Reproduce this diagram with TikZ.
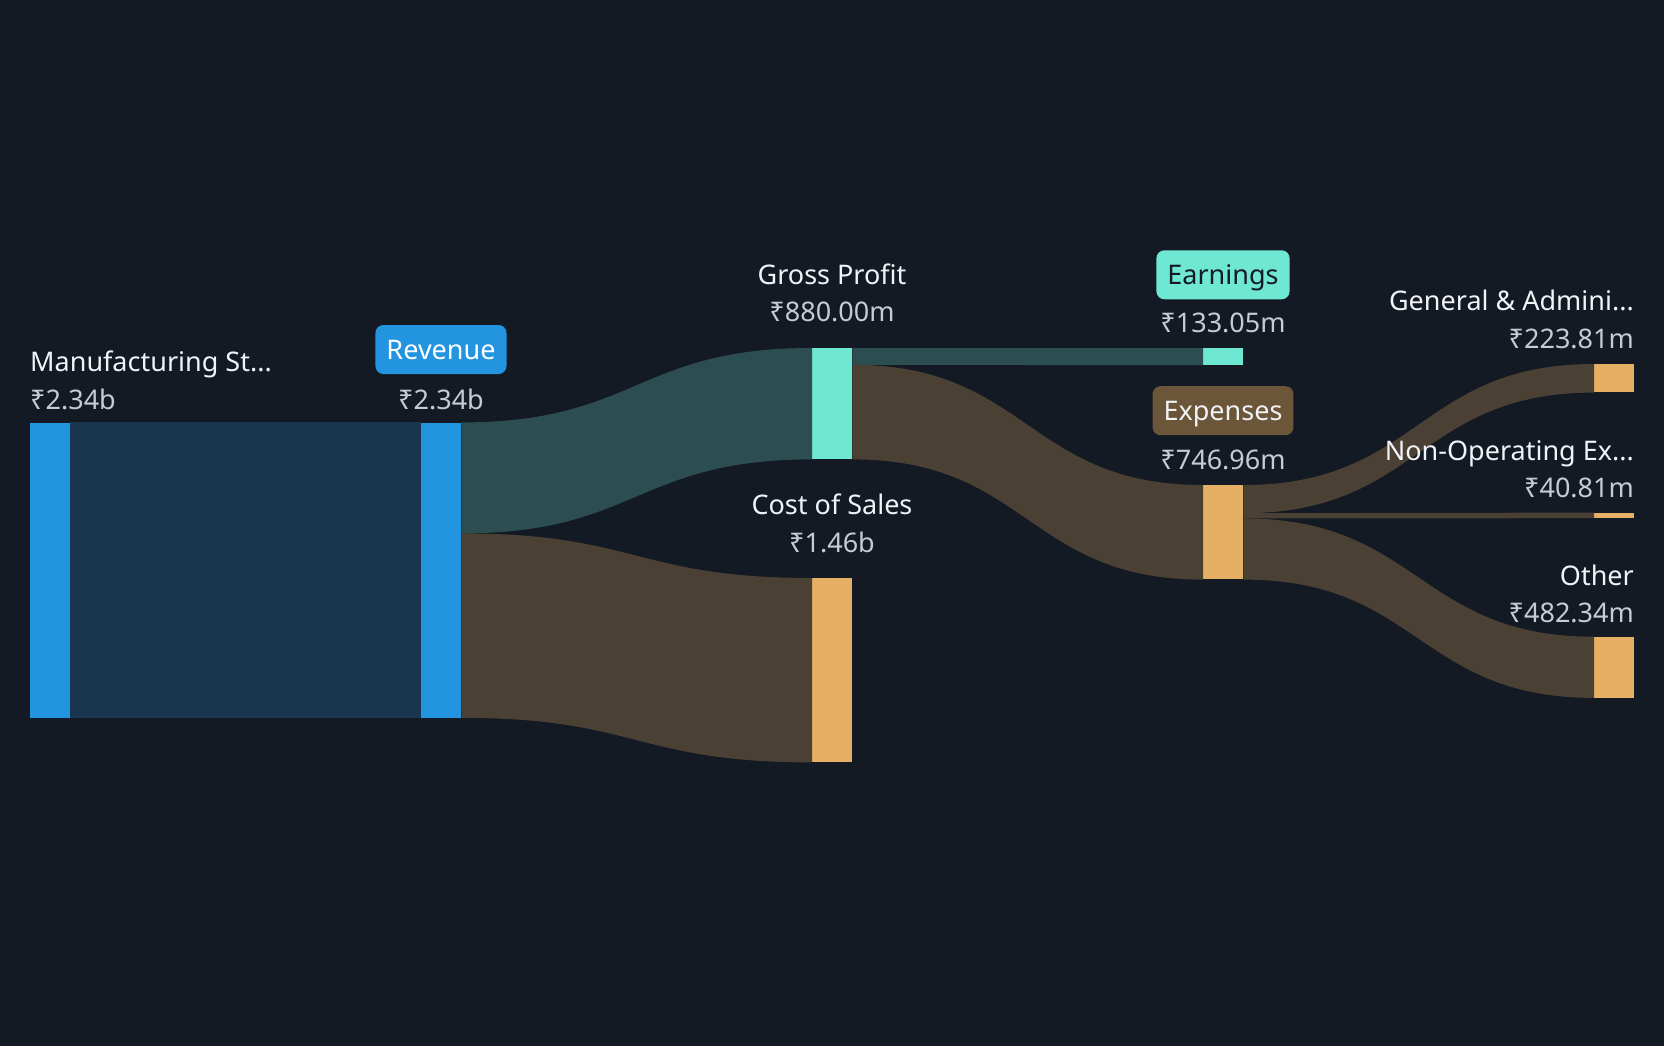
\documentclass[tikz,border=0pt]{standalone}
\usepackage{fontspec}
\setmainfont{Noto Sans}
\newfontfamily\rupeefont{Noto Sans}
\usetikzlibrary{calc}

\definecolor{bg}{HTML}{131A24}
\definecolor{barblue}{HTML}{2394DF}
\definecolor{flowblue}{HTML}{18374F}
\definecolor{barteal}{HTML}{6EE7D3}
\definecolor{flowteal}{HTML}{2C4E50}
\definecolor{barorange}{HTML}{E5B063}
\definecolor{flowbrown}{HTML}{4A4034}
\definecolor{tagbrown}{HTML}{6B563A}
\definecolor{labeltext}{HTML}{F1F3F6}
\definecolor{valuetext}{HTML}{C8CBD0}
\newcommand\inr{{\rupeefont ₹}}

\begin{document}
\begin{tikzpicture}[x=1pt, y=-1pt,
  bar/.style={rectangle, inner sep=0pt, minimum width=40pt, anchor=north west, draw=none},
  lbl/.style={text=labeltext, font=\fontsize{27pt}{32pt}\selectfont, inner sep=0pt},
  val/.style={text=valuetext, font=\fontsize{27pt}{32pt}\selectfont, inner sep=0pt},
  tag/.style={rounded corners=8pt, minimum height=49pt, inner xsep=11pt, text height=19.5pt, text depth=0pt, font=\fontsize{27pt}{32pt}\selectfont}]
\fill[bg] (0,0) rectangle (1664,1046); % background

% bars
\node[bar, fill=barblue, minimum height=295pt] (manu) at (30,422.4) {};
\node[bar, fill=barblue, minimum height=295pt] (rev) at (421,422.4) {};
\node[bar, fill=barteal, minimum height=111pt] (gp) at (812,348) {};
\node[bar, fill=barorange, minimum height=184pt] (cos) at (812,578) {};
\node[bar, fill=barteal, minimum height=16.8pt] (earn) at (1203,348) {};
\node[bar, fill=barorange, minimum height=94.2pt] (exp) at (1203,485) {};
\node[bar, fill=barorange, minimum height=28.2pt] (ga) at (1594,364) {};
\node[bar, fill=barorange, minimum height=5.2pt] (nonop) at (1594,512.6) {};
\node[bar, fill=barorange, minimum height=60.8pt] (other) at (1594,636.7) {};

% flows
\fill[flowblue] (manu.north east) rectangle (rev.south west);
\fill[flowteal] (rev.north east) .. controls +(175.5,0) and +(-175.5,0) .. (gp.north west) -- (gp.south west) .. controls +(-175.5,0) and +(175.5,0) .. ($(rev.north east)+(0,111)$) -- cycle;
\fill[flowbrown] ($(rev.north east)+(0,111)$) .. controls +(175.5,0) and +(-175.5,0) .. (cos.north west) -- (cos.south west) .. controls +(-175.5,0) and +(175.5,0) .. (rev.south east) -- cycle;
\fill[flowteal] (gp.north east) -- (earn.north west) -- (earn.south west) -- ($(gp.north east)+(0,16.8)$) -- cycle;
\fill[flowbrown] ($(gp.north east)+(0,16.8)$) .. controls +(175.5,0) and +(-175.5,0) .. (exp.north west) -- (exp.south west) .. controls +(-175.5,0) and +(175.5,0) .. (gp.south east) -- cycle;
\fill[flowbrown] (exp.north east) .. controls +(175.5,0) and +(-175.5,0) .. (ga.north west) -- (ga.south west) .. controls +(-175.5,0) and +(175.5,0) .. ($(exp.north east)+(0,28.2)$) -- cycle;
\fill[flowbrown] ($(exp.north east)+(0,28.2)$) .. controls +(175.5,0) and +(-175.5,0) .. (nonop.north west) -- (nonop.south west) .. controls +(-175.5,0) and +(175.5,0) .. ($(exp.north east)+(0,33.4)$) -- cycle;
\fill[flowbrown] ($(exp.north east)+(0,33.4)$) .. controls +(175.5,0) and +(-175.5,0) .. (other.north west) -- (other.south west) .. controls +(-175.5,0) and +(175.5,0) .. (exp.south east) -- cycle;

% labels
\node[lbl, anchor=base west] (manulbl) at (30,371.2) {Manufacturing St...};
\node[val, anchor=base west] (manuval) at (30,409) {\inr2.34b};
\node[tag, fill=barblue, text=white] (revtag) at (441,349.5) {Revenue};
\node[val, anchor=base] (revval) at (441,409) {\inr2.34b};
\node[lbl, anchor=base] (gplbl) at (832,284) {Gross Profit};
\node[val, anchor=base] (gpval) at (832,321.7) {\inr880.00m};
\node[lbl, anchor=base] (coslbl) at (832,514.8) {Cost of Sales};
\node[val, anchor=base] (cosval) at (832,552.6) {\inr1.46b};
\node[tag, fill=barteal, text=bg] (earntag) at (1223,274.8) {Earnings};
\node[val, anchor=base] (earnval) at (1223,332.6) {\inr133.05m};
\node[tag, fill=tagbrown, text=labeltext] (exptag) at (1223,410.7) {Expenses};
\node[val, anchor=base] (expval) at (1223,469.2) {\inr746.96m};
\node[lbl, anchor=base east] (galbl) at (1634,310.9) {General \& Admini...};
\node[val, anchor=base east] (gaval) at (1634,348.9) {\inr223.81m};
\node[lbl, anchor=base east] (nonoplbl) at (1634,460.2) {Non-Operating Ex...};
\node[val, anchor=base east] (nonopval) at (1634,497.6) {\inr40.81m};
\node[lbl, anchor=base east] (otherlbl) at (1634,585) {Other};
\node[val, anchor=base east] (otherval) at (1634,622.9) {\inr482.34m};
\end{tikzpicture}
\end{document}
